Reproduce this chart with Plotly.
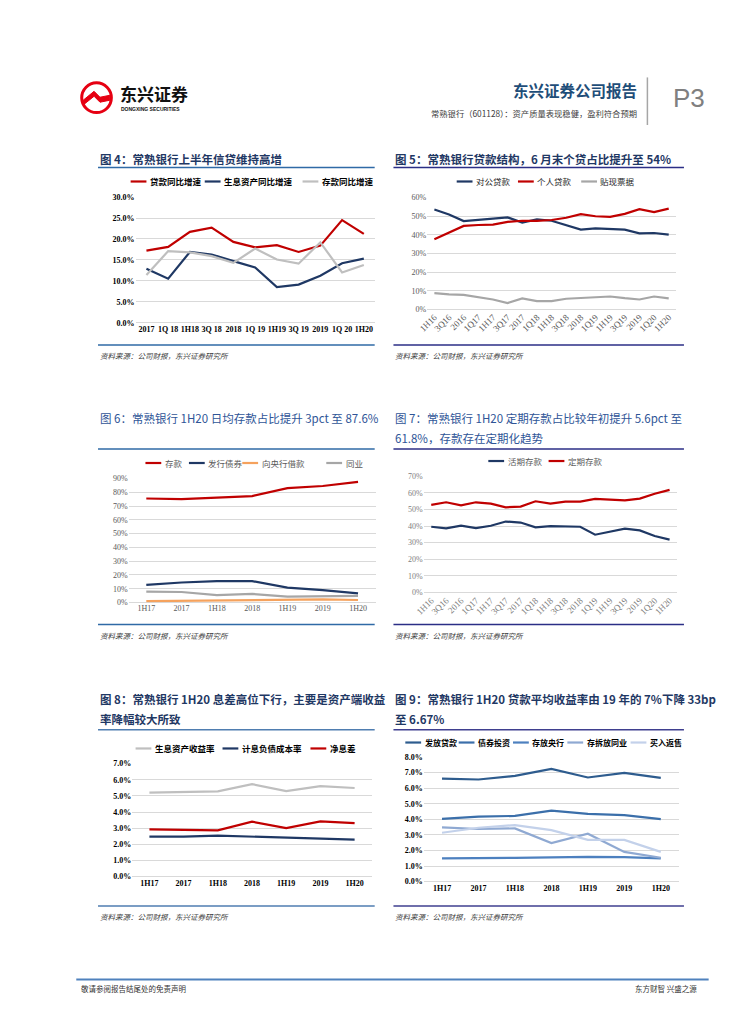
import plotly.graph_objects as go

W, H = 755, 1024


def fx(p):
    return p / W


def fy(p):
    return 1 - p / H


# ---------------- DATA ----------------
f4_cats = ["2017", "1Q 18", "1H18", "3Q 18", "2018", "1Q 19", "1H19", "3Q 19", "2019", "1Q 20", "1H20"]
f4_loan = [17.2, 18.1, 21.7, 22.7, 19.3, 18.0, 18.5, 16.9, 18.4, 24.5, 21.2]
f4_asset = [12.9, 10.5, 16.9, 16.3, 14.7, 13.2, 8.5, 9.1, 11.2, 14.2, 15.3]
f4_dep = [11.4, 17.1, 16.8, 15.9, 14.3, 17.7, 15.1, 14.1, 19.2, 12.0, 13.8]

q_cats = ["1H16", "3Q16", "2016", "1Q17", "1H17", "3Q17", "2017", "1Q18", "1H18",
          "3Q18", "2018", "1Q19", "1H19", "3Q19", "2019", "1Q20", "1H20"]
f5_corp = [53.6, 51.0, 47.4, 48.1, 48.8, 49.4, 46.6, 48.3, 47.6, 45.2, 42.8, 43.5, 43.2, 42.8, 40.8, 41.0, 40.1]
f5_retail = [37.7, 41.2, 44.8, 45.3, 45.5, 47.0, 47.6, 47.5, 48.0, 49.2, 51.1, 50.0, 49.7, 51.3, 53.8, 52.2, 54.1]
f5_disc = [8.7, 8.0, 7.8, 6.4, 5.3, 3.4, 5.9, 4.4, 4.4, 5.7, 6.2, 6.6, 6.9, 6.0, 5.3, 6.9, 5.9]

h_cats = ["1H17", "2017", "1H18", "2018", "1H19", "2019", "1H20"]
f6_dep = [75.5, 75.0, 76.2, 77.3, 83.0, 84.6, 87.6]
f6_bond = [12.8, 14.5, 15.5, 15.5, 10.8, 9.0, 6.6]
f6_cb = [1.0, 1.2, 1.4, 1.7, 2.3, 2.2, 1.8]
f6_ib = [7.8, 7.6, 5.3, 6.2, 4.3, 4.8, 4.8]

f7_demand = [39.6, 38.6, 40.2, 38.8, 40.2, 42.7, 42.1, 39.2, 40.0, 39.6, 39.6, 34.8, 36.8, 38.4, 37.4, 34.0, 31.8]
f7_time = [52.7, 54.3, 52.5, 54.3, 53.5, 51.3, 51.7, 54.9, 53.5, 54.7, 54.7, 56.3, 55.9, 55.5, 56.5, 59.4, 61.8]

f8_yield = [5.20, 5.24, 5.28, 5.73, 5.30, 5.61, 5.49]
f8_cost = [2.48, 2.48, 2.54, 2.48, 2.44, 2.37, 2.29]
f8_nim = [2.93, 2.91, 2.87, 3.40, 3.01, 3.42, 3.32]

f9_loan = [6.62, 6.56, 6.79, 7.24, 6.69, 6.99, 6.67]
f9_bond = [4.03, 4.18, 4.22, 4.56, 4.35, 4.27, 4.01]
f9_cb = [1.49, 1.49, 1.53, 1.55, 1.59, 1.57, 1.49]
f9_ib = [3.48, 3.38, 3.42, 2.48, 3.08, 1.91, 1.53]
f9_repo = [3.14, 3.46, 3.63, 3.31, 2.68, 2.68, 1.91]

# ---------------- STYLE ----------------
RED = "#C00000"
NAVY = "#1F3864"
GREY_L = "#BFBFBF"
GREY = "#A6A6A6"
ORANGE = "#F5A25D"
B1, B2, B3, B4, B5 = "#2E5C8E", "#3B6FAA", "#4D80BF", "#8FA9D2", "#C3D1EA"

CJK = "Noto Sans CJK SC"
SERIF = "Liberation Serif"
TITLE_C = "#1F3864"

fig = go.Figure()
layout = {}
annotations = []
shapes = []


def axname(n):
    return ("x" if n == 1 else f"x{n}"), ("y" if n == 1 else f"y{n}")


def add_line(n, x, y, color, width=2.2):
    xa, ya = axname(n)
    fig.add_trace(go.Scatter(x=x, y=y, mode="lines", line=dict(color=color, width=width),
                             xaxis=xa, yaxis=ya, showlegend=False, hoverinfo="skip"))


def setup_axes(n, xpx, ypx, cats, yrng, dtick, fmt, suffix, tfont, xfont=None, angle=0):
    xa, ya = axname(n)
    xk = "xaxis" if n == 1 else f"xaxis{n}"
    yk = "yaxis" if n == 1 else f"yaxis{n}"
    layout[xk] = dict(domain=[fx(xpx[0]), fx(xpx[1])], anchor=ya, type="category",
                      categoryorder="array", categoryarray=cats,
                      range=[-0.5, len(cats) - 0.5], showgrid=False, showline=False,
                      zeroline=False, ticks="", tickfont=xfont or tfont, tickangle=angle,
                      fixedrange=True)
    layout[yk] = dict(domain=[fy(ypx[0]), fy(ypx[1])], anchor=xa, range=yrng, dtick=dtick,
                      tick0=0, tickformat=fmt, ticksuffix=suffix, showgrid=True,
                      gridcolor="#D9D9D9", gridwidth=1, zeroline=True, zerolinecolor="#D9D9D9",
                      zerolinewidth=1, showline=False, ticks="", tickfont=tfont, fixedrange=True)


def text(x, y, s, size, color="#000", bold=False, italic=False, family=CJK, xanchor="left"):
    annotations.append(dict(x=fx(x), y=fy(y), xref="paper", yref="paper", text=s, showarrow=False,
                            xanchor=xanchor, yanchor="middle",
                            font=dict(family=family, size=size, color=color,
                                      weight="bold" if bold else "normal",
                                      style="italic" if italic else "normal")))


def hline(x0, x1, y, color, width=1.5):
    shapes.append(dict(type="line", xref="paper", yref="paper", x0=fx(x0), x1=fx(x1),
                       y0=fy(y), y1=fy(y), line=dict(color=color, width=width)))


def legend_item(x0, y, label, color, size=8.5, bold=False, tcolor="#000", lw=2.2, seg=16):
    shapes.append(dict(type="line", xref="paper", yref="paper", x0=fx(x0), x1=fx(x0 + seg),
                       y0=fy(y), y1=fy(y), line=dict(color=color, width=lw)))
    text(x0 + seg + 1.5, y, label, size, color=tcolor, bold=bold)


bold_tick = dict(family=SERIF, size=8, color="#000", weight="bold")
reg_tick = dict(family=SERIF, size=8, color="#595959")
rot_tick = dict(family=SERIF, size=9, color="#595959")
reg_tick7 = dict(family=SERIF, size=8, color="#808080")
rot_tick7 = dict(family=SERIF, size=9, color="#808080")

SRC = "资料来源：公司财报，东兴证券研究所"
L_RULE = "#2F6AA6"
R_RULE = "#2B2E86"

# ---------------- HEADER ----------------
shapes.append(dict(type="circle", xref="paper", yref="paper", x0=fx(65.5), x1=fx(95.5),
                   y0=fy(101.5), y1=fy(71.5), line=dict(color="#E60012", width=3), fillcolor="white"))
shapes.append(dict(type="path", xref="paper", yref="paper",
                   path=f"M {fx(67)},{fy(89)} L {fx(78)},{fy(80)} L {fx(84)},{fy(86)} L {fx(94)},{fy(84)} "
                        f"L {fx(94)},{fy(89)} L {fx(84)},{fy(91)} L {fx(78)},{fy(85)} L {fx(68)},{fy(93)} Z",
                   line=dict(color="#E60012", width=1), fillcolor="#E60012"))
text(102, 82, "东兴证券", 17, color="#111", bold=True)
text(103, 98, "DONGXING SECURITIES", 5, color="#111", bold=True, family="Liberation Sans")
text(630, 79, "东兴证券公司报告", 15.5, color="#1F4E79", bold=True, xanchor="right")
text(630, 102, "常熟银行（601128）：资产质量表现稳健，盈利符合预期", 8.3, color="#404040", xanchor="right")
shapes.append(dict(type="line", xref="paper", yref="paper", x0=fx(638), x1=fx(638),
                   y0=fy(66), y1=fy(114), line=dict(color="#A6A6A6", width=1.5)))
text(680, 87, "P3", 26, color="#808080", family="Liberation Sans", xanchor="center")

# ---------------- FIG 4 ----------------
text(82, 148, "图 4：常熟银行上半年信贷维持高增", 11.5, color=TITLE_C, bold=True)
hline(82, 362, 157, L_RULE)
legend_item(115, 171, "贷款同比增速", RED, bold=True)
legend_item(190, 171, "生息资产同比增速", NAVY, bold=True)
legend_item(289, 171, "存款同比增速", GREY_L, bold=True)
setup_axes(1, (120, 362), (313.5, 186.7), f4_cats, [0, 30], 5, ".1f", "%", bold_tick)
add_line(1, f4_cats, f4_loan, RED)
add_line(1, f4_cats, f4_asset, NAVY)
add_line(1, f4_cats, f4_dep, GREY_L)
hline(82, 362, 336, L_RULE)
text(82, 347, SRC, 7.5, color="#404040", italic=True)

# ---------------- FIG 5 ----------------
text(381, 148, "图 5：常熟银行贷款结构，6 月末个贷占比提升至 54%", 11.5, color=TITLE_C, bold=True)
hline(381, 675, 157, R_RULE)
legend_item(445, 171, "对公贷款", NAVY, tcolor="#262626")
legend_item(507, 171, "个人贷款", RED, tcolor="#262626")
legend_item(571, 171, "贴现票据", GREY, tcolor="#262626")
setup_axes(2, (415, 667), (300, 187.3), q_cats, [0, 60], 10, ".0f", "%", reg_tick,
           xfont=rot_tick, angle=-45)
add_line(2, q_cats, f5_corp, NAVY)
add_line(2, q_cats, f5_retail, RED)
add_line(2, q_cats, f5_disc, GREY)
hline(381, 675, 336, R_RULE)
text(381, 347, SRC, 7.5, color="#404040", italic=True)

# ---------------- FIG 6 ----------------
text(82, 410, "图 6：常熟银行 1H20 日均存款占比提升 3pct 至 87.6%", 11.5, color="#2F5597")
hline(82, 362, 441, L_RULE)
legend_item(130, 455, "存款", RED, tcolor="#595959")
legend_item(174, 455, "发行债券", NAVY, tcolor="#595959")
legend_item(228, 455, "向央行借款", ORANGE, tcolor="#595959")
legend_item(313, 455, "同业", GREY, tcolor="#595959")
setup_axes(3, (113, 363), (595.7, 470.7), h_cats, [0, 90], 10, ".0f", "%", reg_tick)
add_line(3, h_cats, f6_dep, RED)
add_line(3, h_cats, f6_bond, NAVY)
add_line(3, h_cats, f6_cb, ORANGE)
add_line(3, h_cats, f6_ib, GREY)
hline(82, 362, 618, L_RULE)
text(82, 629, SRC, 7.5, color="#404040", italic=True)

# ---------------- FIG 7 ----------------
text(381, 410, "图 7：常熟银行 1H20 定期存款占比较年初提升 5.6pct 至", 11.5, color="#2F5597")
text(381, 430, "61.8%，存款存在定期化趋势", 11.5, color="#2F5597")
hline(381, 675, 441, R_RULE)
legend_item(477, 453, "活期存款", NAVY, tcolor="#595959")
legend_item(538, 453, "定期存款", RED, tcolor="#595959")
setup_axes(4, (411.7, 668), (585.7, 468.3), q_cats, [0, 70], 10, ".0f", "%", reg_tick7,
           xfont=rot_tick7, angle=-45)
add_line(4, q_cats, f7_demand, NAVY)
add_line(4, q_cats, f7_time, RED)
hline(381, 675, 618, R_RULE)
text(381, 629, SRC, 7.5, color="#404040", italic=True)

# ---------------- FIG 8 ----------------
text(82, 693, "图 8：常熟银行 1H20 息差高位下行，主要是资产端收益", 11.5, color=TITLE_C, bold=True)
text(82, 713, "率降幅较大所致", 11.5, color=TITLE_C, bold=True)
hline(82, 362, 724, "#4F7DB0")
legend_item(120, 743, "生息资产收益率", GREY_L, bold=True)
legend_item(208, 743, "计息负债成本率", NAVY, bold=True)
legend_item(297, 743, "净息差", RED, bold=True)
setup_axes(5, (116.7, 359), (872.3, 758.3), h_cats, [0, 7], 1, ".1f", "%", bold_tick)
add_line(5, h_cats, f8_yield, GREY_L)
add_line(5, h_cats, f8_cost, NAVY)
add_line(5, h_cats, f8_nim, RED)
hline(82, 362, 902, "#4F7DB0")
text(82, 913, SRC, 7.5, color="#404040", italic=True)

# ---------------- FIG 9 ----------------
text(381, 693, "图 9：常熟银行 1H20 贷款平均收益率由 19 年的 7%下降 33bp", 11.5, color=TITLE_C, bold=True)
text(381, 713, "至 6.67%", 11.5, color=TITLE_C, bold=True)
hline(381, 675, 724, "#3F3F8F")
legend_item(393, 737, "发放贷款", B1, size=8, bold=True)
legend_item(447, 737, "债券投资", B2, size=8, bold=True)
legend_item(502, 737, "存放央行", B3, size=8, bold=True)
legend_item(557, 737, "存拆放同业", B4, size=8, bold=True)
legend_item(621, 737, "买入返售", B5, size=8, bold=True)
setup_axes(6, (411.7, 670), (877.3, 751.7), h_cats, [0, 8], 1, ".1f", "%", bold_tick)
add_line(6, h_cats, f9_loan, B1)
add_line(6, h_cats, f9_bond, B2)
add_line(6, h_cats, f9_cb, B3)
add_line(6, h_cats, f9_ib, B4)
add_line(6, h_cats, f9_repo, B5)
hline(381, 675, 902, "#3F3F8F")
text(381, 913, SRC, 7.5, color="#404040", italic=True)

# ---------------- FOOTER ----------------
hline(60, 700, 976, "#4F81BD", width=2)
text(63, 985, "敬请参阅报告结尾处的免责声明", 7.5, color="#333")
text(690, 985, "东方财智 兴盛之源", 7.5, color="#333", xanchor="right")

fig.update_layout(width=W, height=H, margin=dict(l=0, r=0, t=0, b=0),
                  paper_bgcolor="white", plot_bgcolor="white", showlegend=False,
                  annotations=annotations, shapes=shapes, **layout)
fig.write_html("out.html")
